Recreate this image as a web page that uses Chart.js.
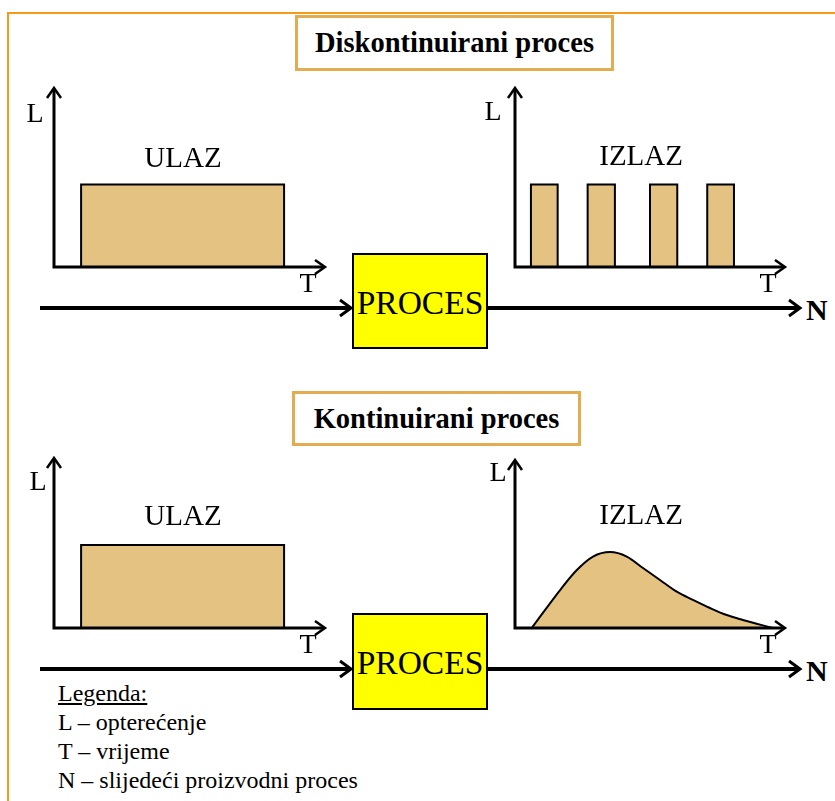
<!DOCTYPE html>
<html>
<head>
<meta charset="utf-8">
<script src="https://cdn.jsdelivr.net/npm/chart.js@4"></script>
<style>
  body { margin: 0; background: #fff; font-family: "Liberation Serif", "Times New Roman", serif; }
  #page { position: relative; width: 835px; height: 801px; overflow: hidden; }
  .frame { position: absolute; left: 7px; top: 12px; width: 900px; height: 900px; border: 2px solid #F59A1B; }
  .title { position: absolute; border: 3px solid #E3AC50; background: #fff; display: flex; align-items: center; justify-content: center; font-weight: bold; font-size: 28.5px; box-sizing: border-box; }
  .proc { position: absolute; background: #FFFF00; border: 2px solid #000; box-sizing: border-box; display: flex; align-items: center; justify-content: center; font-size: 33.5px; padding-top: 3px; }
  .n { position: absolute; font-weight: bold; font-size: 30px; line-height: 30px; }
  canvas { position: absolute; }
  .legend { position: absolute; left: 58px; top: 679px; font-size: 24px; line-height: 29px; }
</style>
</head>
<body>
<div id="page">
  <div class="frame"></div>
  <div class="title" style="left:295px;top:15px;width:319px;height:56px;">Diskontinuirani proces</div>
  <div class="title" style="left:292px;top:391px;width:289px;height:55px;">Kontinuirani proces</div>

  <svg width="835" height="801" style="position:absolute;left:0;top:0">
    <g stroke="#000" fill="none">
      <line x1="40" y1="308" x2="350" y2="308" stroke-width="4"/>
      <polyline points="340,300 351,308 340,316" stroke-width="3"/>
      <line x1="488" y1="308" x2="798" y2="308" stroke-width="4"/>
      <polyline points="789,300 800,308 789,316" stroke-width="3"/>
      <line x1="40" y1="669" x2="350" y2="669" stroke-width="4"/>
      <polyline points="340,661 351,669 340,677" stroke-width="3"/>
      <line x1="488" y1="669" x2="798" y2="669" stroke-width="4"/>
      <polyline points="789,661 800,669 789,677" stroke-width="3"/>
    </g>
  </svg>

  <div class="proc" style="left:352px;top:253px;width:136px;height:96px;">PROCES</div>
  <div class="proc" style="left:352px;top:613px;width:136px;height:97px;">PROCES</div>
  <div class="n" style="left:806px;top:295px;">N</div>
  <div class="n" style="left:806px;top:656px;">N</div>

  <canvas id="c1" width="326" height="234" style="left:14px;top:68px"></canvas>
  <canvas id="c2" width="325" height="234" style="left:475px;top:68px"></canvas>
  <canvas id="c3" width="326" height="225" style="left:14px;top:438px"></canvas>
  <canvas id="c4" width="325" height="223" style="left:475px;top:440px"></canvas>

  <div class="legend">
    <div><u>Legenda:</u></div>
    <div>L – opterećenje</div>
    <div>T – vrijeme</div>
    <div>N – slijedeći proizvodni proces</div>
  </div>
</div>

<script>
// ulaz (input) load, both processes
const inputT = [1.0, 1.0, 8.49, 8.49];
const inputLTop = [0, 4.61, 4.61, 0];
const inputLBottom = [0, 4.88, 4.88, 0];

// izlaz (output) of the discontinuous process: four pulses
const pulseStart = [0.59, 2.69, 5.00, 7.12];
const pulseEnd = [1.58, 3.70, 6.01, 8.11];
const pulseL = [4.61, 4.61, 4.61, 4.61];

// izlaz (output) of the continuous process
const curveT = [0.62, 1.67, 2.29, 2.89, 3.52, 4.14, 4.74, 5.37, 5.99, 6.59, 7.22, 7.84, 8.44, 9.55];
const curveL = [0, 2.26, 3.45, 4.25, 4.52, 4.25, 3.57, 2.86, 2.16, 1.67, 1.19, 0.77, 0.48, 0];

const fillColor = '#E3C282';
const serif = '"Liberation Serif", "Times New Roman", serif';

function toPoints(xs, ys) {
  return xs.map((x, i) => ({ x: x, y: ys[i] }));
}

function area(points, smooth) {
  return {
    data: points,
    borderColor: '#000',
    borderWidth: 2,
    backgroundColor: fillColor,
    fill: 'origin',
    pointRadius: 0,
    tension: 0,
    cubicInterpolationMode: smooth ? 'monotone' : 'default',
    borderJoinStyle: 'miter'
  };
}

// axes with arrow heads plus the L, T and ULAZ/IZLAZ labels
const diagramAxes = {
  id: 'diagramAxes',
  afterDatasetsDraw(chart, args, opts) {
    const ctx = chart.ctx;
    const x = chart.scales.x, y = chart.scales.y;
    const x0 = x.getPixelForValue(0), y0 = y.getPixelForValue(0);
    const top = y.getPixelForValue(10), right = x.getPixelForValue(10);
    ctx.save();
    ctx.strokeStyle = '#000';
    ctx.lineWidth = 3;
    ctx.lineJoin = 'miter';
    ctx.beginPath();
    ctx.moveTo(x0, top + 1);
    ctx.lineTo(x0, y0);
    ctx.lineTo(right - 1, y0);
    ctx.stroke();
    ctx.lineWidth = 2.5;
    ctx.beginPath();
    ctx.moveTo(x0 - 7, top + 10);
    ctx.lineTo(x0, top);
    ctx.lineTo(x0 + 7, top + 10);
    ctx.moveTo(right - 10, y0 - 7);
    ctx.lineTo(right, y0);
    ctx.lineTo(right - 10, y0 + 7);
    ctx.stroke();

    ctx.fillStyle = '#000';
    ctx.textAlign = 'center';
    ctx.textBaseline = 'middle';
    ctx.font = '28px ' + serif;
    ctx.fillText('L', x0 + opts.lPos[0], top + opts.lPos[1]);
    ctx.fillText('T', right - 17, y0 + 18);
    ctx.font = '29px ' + serif;
    ctx.fillText(opts.label, x.getPixelForValue(opts.labelAt[0]), y.getPixelForValue(opts.labelAt[1]));
    ctx.restore();
  }
};

function makeChart(id, datasets, lPos, label, labelAt) {
  return new Chart(document.getElementById(id), {
    type: 'line',
    data: { datasets: datasets },
    options: {
      responsive: false,
      animation: false,
      layout: { padding: { left: 40, top: 20, right: 15, bottom: 35 } },
      scales: {
        x: { type: 'linear', min: 0, max: 10, display: false },
        y: { min: 0, max: 10, display: false }
      },
      plugins: {
        legend: { display: false },
        tooltip: { enabled: false },
        diagramAxes: { lPos: lPos, label: label, labelAt: labelAt }
      }
    },
    plugins: [diagramAxes]
  });
}

makeChart('c1', [area(toPoints(inputT, inputLTop))], [-19, 27], 'ULAZ', [4.76, 6.03]);

const pulses = pulseStart.map((s, i) =>
  area(toPoints([s, s, pulseEnd[i], pulseEnd[i]], [0, pulseL[i], pulseL[i], 0])));
makeChart('c2', pulses, [-22, 25], 'IZLAZ', [4.67, 6.15]);

makeChart('c3', [area(toPoints(inputT, inputLBottom))], [-16, 25], 'ULAZ', [4.76, 6.53]);

makeChart('c4', [area(toPoints(curveT, curveL), true)], [-17, 14], 'IZLAZ', [4.67, 6.67]);
</script>
</body>
</html>
